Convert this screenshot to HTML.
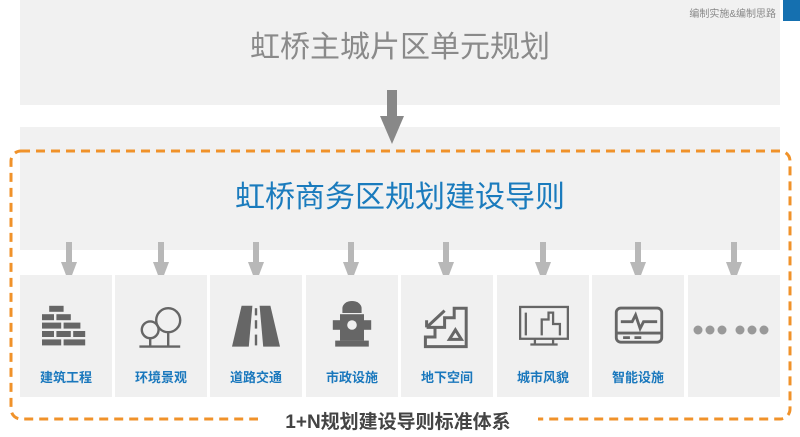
<!DOCTYPE html>
<html><head><meta charset="utf-8"><style>
body{margin:0;width:800px;height:437px;background:#fff;position:relative;overflow:hidden;font-family:"Liberation Sans","Noto Sans CJK SC",sans-serif}
.a{position:absolute}
.cell{position:absolute;top:275px;width:92px;height:122px;background:#f0f0f0}
.cell span{position:absolute;left:0;right:0;top:92px;text-align:center;color:#1a78bd;font-weight:bold;font-size:13px}
.cell svg{position:absolute;left:22px;top:26px}
</style></head><body>
<div class="a" style="left:20px;top:0;width:760px;height:105px;background:#f1f1f1"></div>
<div class="a" style="left:783px;top:0;width:17px;height:21px;background:#1570b0"></div>
<div class="a" style="left:640px;top:5px;width:136px;text-align:right;font-size:10px;color:#888">编制实施&amp;编制思路</div>
<div class="a" style="left:20px;top:22px;width:760px;text-align:center;font-size:30px;color:#8a8a8a">虹桥主城片区单元规划</div>
<div class="a" style="left:20px;top:127px;width:760px;height:123px;background:#f1f1f1"></div>
<svg class="a" style="left:0;top:0" width="800" height="437">
<rect x="387" y="90" width="10" height="26" fill="#888"/><polygon points="380,116 404,116 392,144" fill="#888"/>
<rect x="11" y="151" width="779" height="268" rx="10" fill="none" stroke="#f0922a" stroke-width="3" stroke-dasharray="9,6"/>
<rect x="258" y="410" width="280" height="20" fill="#fff"/>
<g fill="#b8b8b8">
<rect x="66" y="242" width="6" height="22"/><polygon points="61,262 77,262 69,283"/>
<rect x="158" y="242" width="6" height="22"/><polygon points="153,262 169,262 161,283"/>
<rect x="253" y="242" width="6" height="22"/><polygon points="248,262 264,262 256,283"/>
<rect x="348" y="242" width="6" height="22"/><polygon points="343,262 359,262 351,283"/>
<rect x="443" y="242" width="6" height="22"/><polygon points="438,262 454,262 446,283"/>
<rect x="540" y="242" width="6" height="22"/><polygon points="535,262 551,262 543,283"/>
<rect x="635" y="242" width="6" height="22"/><polygon points="630,262 646,262 638,283"/>
<rect x="731" y="242" width="6" height="22"/><polygon points="726,262 742,262 734,283"/>
</g></svg>
<div class="a" style="left:20px;top:172px;width:760px;text-align:center;font-size:30px;color:#1a7bbd">虹桥商务区规划建设导则</div>
<div class="cell" style="left:20px"><svg width="48" height="48" viewBox="0 -2 40 40"><g fill="#666"><rect x="6" y="2" width="12" height="5"/><rect x="0" y="9" width="10" height="5"/><rect x="12" y="9" width="12" height="5"/><rect x="0" y="16" width="16" height="5"/><rect x="18" y="16" width="14" height="5"/><rect x="0" y="23" width="10" height="5"/><rect x="12" y="23" width="12" height="5"/><rect x="26" y="23" width="10" height="5"/><rect x="0" y="30" width="16" height="5"/><rect x="18" y="30" width="18" height="5"/></g></svg><span>建筑工程</span></div>
<div class="cell" style="left:115px"><svg width="48" height="48" viewBox="0 -2 40 40"><g fill="none" stroke="#666" stroke-width="2"><circle cx="26" cy="14" r="10"/><circle cx="11" cy="22" r="7"/><path d="M26 24v12M11 29v7M2 36h34"/></g></svg><span>环境景观</span></div>
<div class="cell" style="left:210px"><svg width="48" height="48" viewBox="0 -2 40 40"><g fill="#666"><polygon points="8,2 17,2 14,36 0,36"/><polygon points="23,2 32,2 40,36 26,36"/><rect x="19" y="4" width="2" height="6"/><rect x="19" y="14" width="2" height="7"/><rect x="19" y="26" width="2" height="9"/></g></svg><span>道路交通</span></div>
<div class="cell" style="left:306px"><svg width="48" height="48" viewBox="0 -2 40 40"><g fill="#666"><path d="M12 4a8 6 0 0 1 16 0v4H12z"/><rect x="10" y="9" width="20" height="22"/><rect x="4" y="14" width="6" height="8"/><rect x="30" y="14" width="6" height="8"/><rect x="6" y="31" width="28" height="5"/></g><circle cx="20" cy="18" r="4" fill="#f0f0f0"/></svg><span>市政设施</span></div>
<div class="cell" style="left:401px"><svg width="48" height="48" viewBox="0 -2 40 40"><g fill="none" stroke="#666" stroke-width="2.5"><path d="M2 36V28h8v-8h8v-8h8V4h10v32z"/><path d="M3 20L18 6M3 20v-6M3 20h6"/><path d="M22 30l5-8 5 8z"/></g></svg><span>地下空间</span></div>
<div class="cell" style="left:497px"><svg width="50" height="46" viewBox="0 -2 44 40"><g fill="none" stroke="#666" stroke-width="2"><rect x="1" y="3" width="42" height="28"/><path d="M14 31v4M30 31v4M10 36h24M6 8v20M20 28V14h6v-6h4v10h6v10"/></g></svg><span>城市风貌</span></div>
<div class="cell" style="left:592px"><svg width="50" height="46" viewBox="0 -2 44 40"><g fill="none" stroke="#666" stroke-width="2.5"><rect x="2" y="4" width="40" height="30" rx="4"/><path d="M2 26h40M6 16h10l3-6 4 12 3-6h12M8 30h6M18 30h6"/></g></svg><span>智能设施</span></div>
<div class="cell" style="left:688px"><svg style="left:0;top:49px" width="92" height="12"><g fill="#999"><circle cx="10" cy="6" r="4.5"/><circle cx="22" cy="6" r="4.5"/><circle cx="34" cy="6" r="4.5"/><circle cx="52" cy="6" r="4.5"/><circle cx="64" cy="6" r="4.5"/><circle cx="76" cy="6" r="4.5"/></g></svg></div>
<div class="a" style="left:258px;top:407px;width:280px;text-align:center;font-size:19px;font-weight:bold;color:#444">1+N规划建设导则标准体系</div>
</body></html>
